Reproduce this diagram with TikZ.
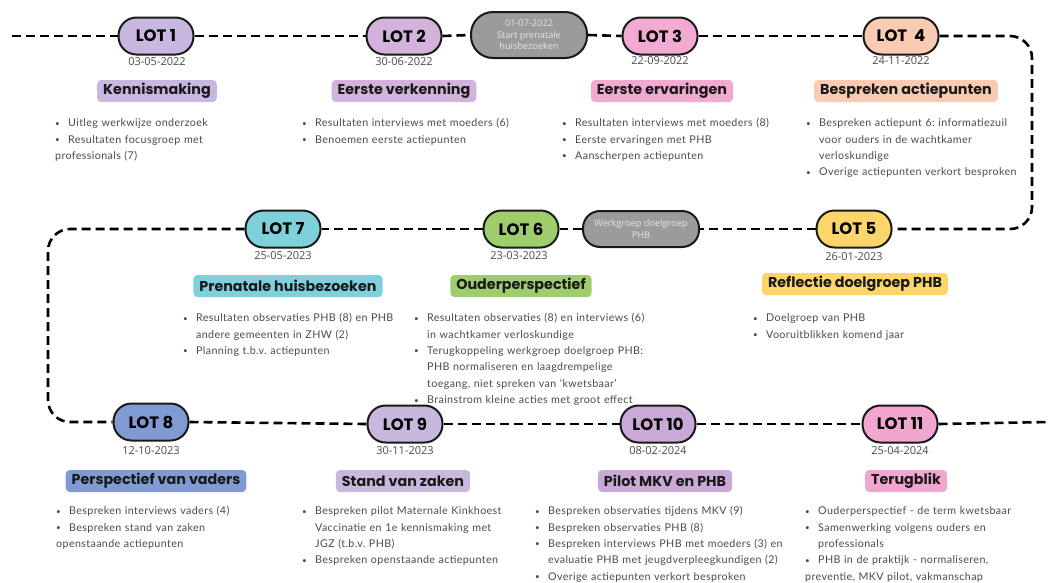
\documentclass[tikz,border=0pt]{standalone}
\usepackage{fontspec}
\setmainfont{Lato}[LetterSpace=3.5]
\newfontfamily\headfont{Poppins}
\newfontfamily\datefont{Open Sans}
\usetikzlibrary{backgrounds}
\frenchspacing
\definecolor{cLotA}{HTML}{C8B7E0}
\definecolor{cLotB}{HTML}{D3B3DB}
\definecolor{cLotC}{HTML}{F2A9D2}
\definecolor{cLotD}{HTML}{F9CBB3}
\definecolor{cLotE}{HTML}{FDD56B}
\definecolor{cLotF}{HTML}{9FCC6C}
\definecolor{cLotG}{HTML}{7ED1DB}
\definecolor{cLotH}{HTML}{7F9BD1}
\definecolor{cLotI}{HTML}{C9B8DE}
\definecolor{cLotJ}{HTML}{CBA9D6}
\definecolor{cLotK}{HTML}{F1A6CF}
\definecolor{cGrey}{HTML}{9B9B9B}
\definecolor{cText}{HTML}{4A4A4A}
\newcommand\bitem[1]{\par\noindent\hangindent=13pt\hangafter=1\makebox[13pt][l]{\raisebox{0.6pt}{\scalebox{0.75}{•}}}#1}
\tikzset{
  dline/.style={line width=2.6pt, dash pattern=on 9pt off 5pt, black},
  lot/.style={draw=black!90, line width=2pt, rounded corners=18pt, minimum width=75pt, minimum height=37pt,
    inner sep=0pt, font=\headfont\bfseries\fontsize{16.5}{16.5}\selectfont, fill=#1},
  greypill/.style={draw=black!90, line width=2pt, fill=cGrey, text=white!90!black, align=center,
    inner sep=0pt, font=\datefont\fontsize{9.2}{11.5}\selectfont, minimum width=116pt},
  datelbl/.style={font=\datefont\fontsize{11}{12}\selectfont, text=cText, inner sep=0pt},
  headlbl/.style={fill=#1, rounded corners=4pt, minimum height=22pt, inner xsep=6pt, inner ysep=0pt,
    font=\headfont\bfseries\fontsize{14.3}{15}\selectfont, text=black!90},
  blist/.style={anchor=north west, inner sep=0pt, text width=300pt, align=left, text=cText,
    font=\frenchspacing\fontsize{10.7}{16.4}\selectfont},
}
\begin{document}
\begin{tikzpicture}[x=1pt,y=-1pt]
\useasboundingbox (0,0) rectangle (1049,582);
% ---------- row 1
\node[lot=cLotA] (lot1) at (156,36) {LOT 1};
\node[lot=cLotB] (lot2) at (404,36) {LOT 2};
\node[greypill, minimum height=46pt, rounded corners=22pt] (g1) at (529,35) {01-07-2022\\Start prenatale\\huisbezoeken};
\node[lot=cLotC] (lot3) at (660,36) {LOT 3};
\node[lot=cLotD] (lot4) at (901,36) {LOT\ \ 4};
\node[datelbl] (d1) at (157,62) {03-05-2022};
\node[datelbl] (d2) at (404,62) {30-06-2022};
\node[datelbl] (d3) at (660,61) {22-09-2022};
\node[datelbl] (d4) at (901,61) {24-11-2022};
\node[headlbl=cLotA] (h1) at (157,91) {Kennismaking};
\node[headlbl=cLotB] (h2) at (404,91) {Eerste verkenning};
\node[headlbl=cLotC] (h3) at (662,91) {Eerste ervaringen};
\node[headlbl=cLotD] (h4) at (906,91) {Bespreken actiepunten};
\node[blist] (b1) at (55,110) {\bitem{Uitleg werkwijze onderzoek}\bitem{Resultaten focusgroep met\newline professionals (7)}};
\node[blist] (b2) at (302,110) {\bitem{Resultaten interviews met moeders (6)}\bitem{Benoemen eerste actiepunten}};
\node[blist] (b3) at (562,110) {\bitem{Resultaten interviews met moeders (8)}\bitem{Eerste ervaringen met PHB}\bitem{Aanscherpen actiepunten}};
\node[blist] (b4) at (806,110) {\bitem{Bespreken actiepunt 6: informatiezuil\newline voor ouders in de wachtkamer\newline verloskundige}\bitem{Overige actiepunten verkort besproken}};
% ---------- row 2
\node[lot=cLotG] (lot7) at (283,229) {LOT 7};
\node[lot=cLotF] (lot6) at (521,229) {LOT 6};
\node[greypill, minimum height=36pt, rounded corners=17pt] (g2) at (641,229) {Werkgroep doelgroep\\PHB};
\node[lot=cLotE] (lot5) at (854,229) {LOT 5};
\node[datelbl] (d7) at (283,256) {25-05-2023};
\node[datelbl] (d6) at (519,256) {23-03-2023};
\node[datelbl] (d5) at (854,257) {26-01-2023};
\node[headlbl=cLotG] (h7) at (288,286) {Prenatale huisbezoeken};
\node[headlbl=cLotF] (h6) at (521,286) {Ouderperspectief};
\node[headlbl=cLotE] (h5) at (855,284) {Reflectie doelgroep PHB};
\node[blist] (b7) at (183,305) {\bitem{Resultaten observaties PHB (8) en PHB\newline andere gemeenten in ZHW (2)}\bitem{Planning t.b.v. actiepunten}};
\node[blist] (b6) at (414,305) {\bitem{Resultaten observaties (8) en interviews (6)\newline in wachtkamer verloskundige}\bitem{Terugkoppeling werkgroep doelgroep PHB:\newline PHB normaliseren en laagdrempelige\newline toegang, niet spreken van ‘kwetsbaar’}\bitem{Brainstrom kleine acties met groot effect}};
\node[blist] (b5) at (753,305) {\bitem{Doelgroep van PHB}\bitem{Vooruitblikken komend jaar}};
% ---------- row 3
\node[lot=cLotH] (lot8) at (151,422) {LOT 8};
\node[lot=cLotI] (lot9) at (405,424) {LOT 9};
\node[lot=cLotJ] (lot10) at (658,424) {LOT 10};
\node[lot=cLotK] (lot11) at (900,424) {LOT 11};
\node[datelbl] (d8) at (151,451) {12-10-2023};
\node[datelbl] (d9) at (405,451) {30-11-2023};
\node[datelbl] (d10) at (658,451) {08-02-2024};
\node[datelbl] (d11) at (900,451) {25-04-2024};
\node[headlbl=cLotH] (h8) at (156,481) {Perspectief van vaders};
\node[headlbl=cLotI] (h9) at (403,481) {Stand van zaken};
\node[headlbl=cLotJ] (h10) at (665,481) {Pilot MKV en PHB};
\node[headlbl=cLotK] (h11) at (906,481) {Terugblik};
\node[blist] (b8) at (56,498) {\bitem{Bespreken interviews vaders (4)}\bitem{Bespreken stand van zaken\newline openstaande actiepunten}};
\node[blist] (b9) at (302,498) {\bitem{Bespreken pilot Maternale Kinkhoest\newline Vaccinatie en 1e kennismaking met\newline JGZ (t.b.v. PHB)}\bitem{Bespreken openstaande actiepunten}};
\node[blist] (b10) at (535,498) {\bitem{Bespreken observaties tijdens MKV (9)}\bitem{Bespreken observaties PHB (8)}\bitem{Bespreken interviews PHB met moeders (3) en\newline evaluatie PHB met jeugdverpleegkundigen (2)}\bitem{Overige actiepunten verkort besproken}};
\node[blist] (b11) at (805,498) {\bitem{Ouderperspectief - de term kwetsbaar}\bitem{Samenwerking volgens ouders en\newline professionals}\bitem{PHB in de praktijk - normaliseren,\newline preventie, MKV pilot, vakmanschap}};
% ---------- connectors
\coordinate (s0) at (12,36);
\coordinate (r1) at (1032,36);
\coordinate (r2) at (1032,229);
\coordinate (l1) at (48,229);
\coordinate (l2) at (48,422);
\coordinate (e0) at (1049,422);
\begin{pgfonlayer}{background}
\draw[dline] (s0) -- (lot1.west);
\draw[dline] (lot1.east) -- (lot2.west);
\draw[dline] (lot2.east) -- (g1.west);
\draw[dline] (g1.east) -- (lot3.west);
\draw[dline] (lot3.east) -- (lot4.west);
\draw[dline, rounded corners=22pt] (lot4.east) -- (r1) -- (r2) -- (lot5.east);
\draw[dline] (lot5.west) -- (g2.east);
\draw[dline] (g2.west) -- (lot6.east);
\draw[dline] (lot6.west) -- (lot7.east);
\draw[dline, rounded corners=22pt] (lot7.west) -- (l1) -- (l2) -- (lot8.west);
\draw[dline] (lot8.east) -- (lot9.west);
\draw[dline] (lot9.east) -- (lot10.west);
\draw[dline] (lot10.east) -- (lot11.west);
\draw[dline] (lot11.east) -- (e0);
\end{pgfonlayer}
\end{tikzpicture}
\end{document}
